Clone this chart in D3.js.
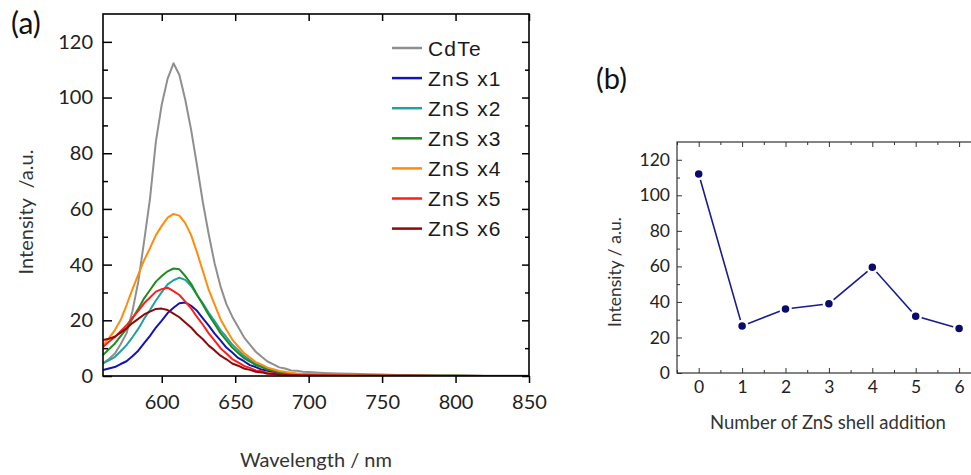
<!DOCTYPE html>
<html><head><meta charset="utf-8">
<script src="https://cdn.jsdelivr.net/npm/d3@7"></script>
<style>
html,body{margin:0;padding:0;background:#fff;}
svg{display:block;}
text{font-family:Lato,"Open Sans",sans-serif;}
</style></head><body>
<svg id="chart" width="971" height="475"></svg>
<script>
// ---------- Data ----------
const wavelengths = [560,564,568,572,576,580,584,588,592,596,600,604,608,612,616,620,624,628,632,636,640,644,648,652,656,660,664,668,672,676,680,684,688,692,696,700,710,720,730,740,750,760,770,780,790,800,810,820,830,840,850];
const cdte = [4.6,6.1,8.0,11.4,15.3,23.2,33.8,48.4,63.7,84.2,97.5,106.8,112.3,108.1,99.2,88.4,75.6,62.3,50.8,40.4,32.2,25.8,21.3,17.6,13.9,11.3,8.7,6.9,5.2,4.2,3.1,2.7,2.0,1.9,1.5,1.4,1.1,0.9,0.8,0.6,0.5,0.4,0.3,0.3,0.2,0.2,0.1,0.1,0.1,0.1,0.1];
const zns1 = [2.1,2.7,3.2,4.3,5.3,7.1,9.1,11.8,14.4,17.4,19.9,22.6,24.5,26.1,26.4,25.2,23.4,20.7,18.1,15.2,12.8,10.2,8.4,6.5,5.3,3.9,3.2,2.3,1.9,1.4,1.1,0.8,0.7,0.5,0.4,0.35,0.3,0.2,0.2,0.15,0.1,0.1,0.1,0.05,0.05,0.05,0.05,0,0,0,0];
const zns2 = [4.5,5.6,6.8,8.9,11.1,13.9,16.9,20.6,23.7,27.1,30.1,32.9,34.4,35.3,34.5,32.3,29.1,26.1,22.7,19.7,16.5,14.0,11.3,9.3,7.2,5.8,4.3,3.5,2.6,2.0,1.5,1.2,0.9,0.7,0.6,0.5,0.35,0.25,0.2,0.15,0.1,0.1,0.1,0.05,0.05,0.05,0,0,0,0,0];
const zns3 = [7.5,9.6,11.6,14.3,16.9,20.6,24.1,27.9,30.9,33.9,35.9,37.6,38.6,38.3,35.9,33.1,29.2,25.6,21.9,18.7,15.4,12.8,10.2,8.3,6.4,5.2,3.9,3.2,2.3,1.9,1.4,1.2,0.9,0.7,0.6,0.5,0.35,0.25,0.2,0.15,0.1,0.1,0.1,0.05,0.05,0.05,0,0,0,0,0];
const zns4 = [11.0,13.6,16.4,20.1,25.4,31.1,36.4,41.6,45.9,50.6,53.9,56.9,58.2,57.6,54.9,50.6,44.4,37.6,30.9,25.6,20.4,16.6,13.1,10.6,8.2,6.6,5.0,4.1,3.0,2.4,1.8,1.5,1.1,0.9,0.7,0.6,0.4,0.3,0.25,0.2,0.15,0.1,0.1,0.1,0.05,0.05,0.05,0,0,0,0];
const zns5 = [10.4,12.3,13.9,16.1,18.2,20.9,23.4,26.1,28.2,30.3,31.2,31.7,30.5,29.1,26.7,24.3,21.2,18.4,15.3,12.7,10.0,8.1,6.1,4.9,3.6,2.9,2.0,1.7,1.1,0.9,0.7,0.55,0.45,0.35,0.3,0.25,0.2,0.15,0.1,0.1,0.1,0.05,0.05,0.05,0,0,0,0,0,0,0];
const zns6 = [12.9,13.4,14.1,15.6,17.1,19.0,20.5,22.1,23.1,24.1,24.2,23.7,22.4,21.1,19.2,17.4,15.1,13.2,10.9,9.2,7.3,6.0,4.5,3.7,2.7,2.2,1.5,1.3,0.8,0.7,0.5,0.4,0.3,0.25,0.2,0.2,0.15,0.1,0.1,0.1,0.05,0.05,0.05,0,0,0,0,0,0,0,0];
const seriesNames = ["CdTe","ZnS x1","ZnS x2","ZnS x3","ZnS x4","ZnS x5","ZnS x6"];
const seriesValues = [cdte,zns1,zns2,zns3,zns4,zns5,zns6];

const shellNumbers = [0,1,2,3,4,5,6];
const peakIntensity = [112,26.5,36,39,59.5,32,25];

const aXTicks = [600,650,700,750,800,850];
const aYTicks = [0,20,40,60,80,100,120];
const aYMinor = [10,30,50,70,90,110];
const bXTicks = [0,1,2,3,4,5,6];
const bXMinor = [-0.5,0.5,1.5,2.5,3.5,4.5,5.5];
const bYTicks = [0,20,40,60,80,100,120];
const bYMinor = [10,30,50,70,90,110];

// ---------- Styles ----------
const seriesColors = ["#8f8f8f","#1414b4","#24a0a0","#1e8c1e","#ff8c0a","#ff1e1e","#8c0a0a"];
const svg = d3.select("#chart");

// ---------- Panel (a) ----------
const A = {left:103,right:529,top:14,bottom:376};
const xA = d3.scaleLinear().domain([560,850]).range([A.left,A.right]);
const yA = d3.scaleLinear().domain([0,130]).range([A.bottom,A.top]);

svg.append("clipPath").attr("id","clipA").append("rect")
  .attr("x",A.left).attr("y",A.top).attr("width",A.right-A.left).attr("height",A.bottom-A.top);

const gA = svg.append("g").attr("clip-path","url(#clipA)");
const lineA = d3.line().x((d,i)=>xA(wavelengths[i])).y(d=>yA(d));
seriesValues.forEach((vals,k)=>{
  gA.append("path").datum(vals).attr("d",lineA)
    .attr("fill","none").attr("stroke",seriesColors[k]).attr("stroke-width",2).attr("stroke-linejoin","round");
});

function styleAxis(g, color, width, fs){
  g.select(".domain").remove();
  g.selectAll(".tick line").attr("stroke",color).attr("stroke-width",width);
  g.selectAll(".tick text").attr("fill","#222").style("font-size",fs+"px").style("font-family","Lato, 'Open Sans', sans-serif");
}
// left
styleAxis(svg.append("g").attr("transform",`translate(${A.left},0)`)
  .call(d3.axisLeft(yA).tickValues(aYTicks).tickSize(-9).tickPadding(10)), "#000",1.5,20);
styleAxis(svg.append("g").attr("transform",`translate(${A.left},0)`)
  .call(d3.axisLeft(yA).tickValues(aYMinor).tickSize(-5).tickFormat("")), "#000",1.5,20);
// right
styleAxis(svg.append("g").attr("transform",`translate(${A.right},0)`)
  .call(d3.axisRight(yA).tickValues(aYTicks).tickSize(-7).tickFormat("")), "#000",1.5,20);
styleAxis(svg.append("g").attr("transform",`translate(${A.right},0)`)
  .call(d3.axisRight(yA).tickValues(aYMinor).tickSize(-4).tickFormat("")), "#000",1.5,20);
// top
styleAxis(svg.append("g").attr("transform",`translate(0,${A.top})`)
  .call(d3.axisTop(xA).tickValues(aXTicks).tickSize(-7).tickFormat("")), "#000",1.5,20);
// bottom
styleAxis(svg.append("g").attr("transform",`translate(0,${A.bottom})`)
  .call(d3.axisBottom(xA).tickValues(aXTicks).tickSize(7).tickPadding(12).tickFormat(d3.format("d"))), "#000",1.5,20);

svg.append("rect").attr("x",A.left).attr("y",A.top).attr("width",A.right-A.left).attr("height",A.bottom-A.top)
  .attr("fill","none").attr("stroke","#000").attr("stroke-width",1.6);

// legend
const leg = svg.append("g");
seriesNames.forEach((n,k)=>{
  const y = 48 + k*30.1;
  leg.append("line").attr("x1",392).attr("x2",422).attr("y1",y).attr("y2",y)
    .attr("stroke",seriesColors[k]).attr("stroke-width",2.5);
  leg.append("text").attr("x",428).attr("y",y).attr("dy","0.36em").text(n)
    .style("font-family","'Liberation Sans', Arial, sans-serif").style("font-size","21px")
    .style("letter-spacing","1.2px").attr("fill","#1a1a1a");
});

svg.append("text").attr("x",11).attr("y",34).text("(a)").style("font-size","30px").attr("fill","#111");
svg.append("text").attr("transform","translate(33,212) rotate(-90)").attr("text-anchor","middle")
  .style("font-size","20px").style("white-space","pre").attr("fill","#333").text("Intensity  /a.u.");
svg.append("text").attr("x",316).attr("y",467).attr("text-anchor","middle")
  .style("font-size","20px").attr("fill","#333").text("Wavelength / nm");

// ---------- Panel (b) ----------
const B = {left:677,right:980.8,top:142,bottom:373};
const xB = d3.scaleLinear().domain([-0.5,6.5]).range([B.left,B.right]);
const yB = d3.scaleLinear().domain([0,130]).range([B.bottom,B.top]);

styleAxis(svg.append("g").attr("transform",`translate(${B.left},0)`)
  .call(d3.axisLeft(yB).tickValues(bYTicks).tickSize(-5).tickPadding(7).tickFormat(d3.format("d"))), "#333",1,17.5);
styleAxis(svg.append("g").attr("transform",`translate(${B.left},0)`)
  .call(d3.axisLeft(yB).tickValues(bYMinor).tickSize(-3).tickFormat("")), "#333",1,17.5);
styleAxis(svg.append("g").attr("transform",`translate(0,${B.bottom})`)
  .call(d3.axisBottom(xB).tickValues(bXTicks).tickSize(-5).tickPadding(8).tickFormat(d3.format("d"))), "#333",1,17.5);
styleAxis(svg.append("g").attr("transform",`translate(0,${B.bottom})`)
  .call(d3.axisBottom(xB).tickValues(bXMinor).tickSize(-3).tickFormat("")), "#333",1,17.5);
styleAxis(svg.append("g").attr("transform",`translate(0,${B.top})`)
  .call(d3.axisTop(xB).tickValues(bXTicks).tickSize(-5).tickFormat("")), "#333",1,17.5);
styleAxis(svg.append("g").attr("transform",`translate(0,${B.top})`)
  .call(d3.axisTop(xB).tickValues(bXMinor).tickSize(-3).tickFormat("")), "#333",1,17.5);

svg.append("rect").attr("x",B.left).attr("y",B.top).attr("width",B.right-B.left).attr("height",B.bottom-B.top)
  .attr("fill","none").attr("stroke","#333").attr("stroke-width",1.2);

const lineB = d3.line().x((d,i)=>xB(shellNumbers[i])).y(d=>yB(d));
svg.append("path").datum(peakIntensity).attr("d",lineB)
  .attr("fill","none").attr("stroke","#1c1c8c").attr("stroke-width",1.6);
svg.selectAll("circle.pt").data(peakIntensity).enter().append("circle").attr("class","pt")
  .attr("cx",(d,i)=>xB(shellNumbers[i])).attr("cy",d=>yB(d)).attr("r",5)
  .attr("fill","#0b0b6e").attr("stroke","#fff").attr("stroke-width",2.5);

svg.append("text").attr("x",596).attr("y",89).text("(b)").style("font-size","29px").attr("fill","#111");
svg.append("text").attr("transform","translate(621,272) rotate(-90)").attr("text-anchor","middle")
  .style("font-size","17.5px").attr("fill","#333").text("Intensity / a.u.");
svg.append("text").attr("x",828).attr("y",429).attr("text-anchor","middle")
  .style("font-size","18.5px").attr("fill","#333").text("Number of ZnS shell addition");
</script>
</body></html>
